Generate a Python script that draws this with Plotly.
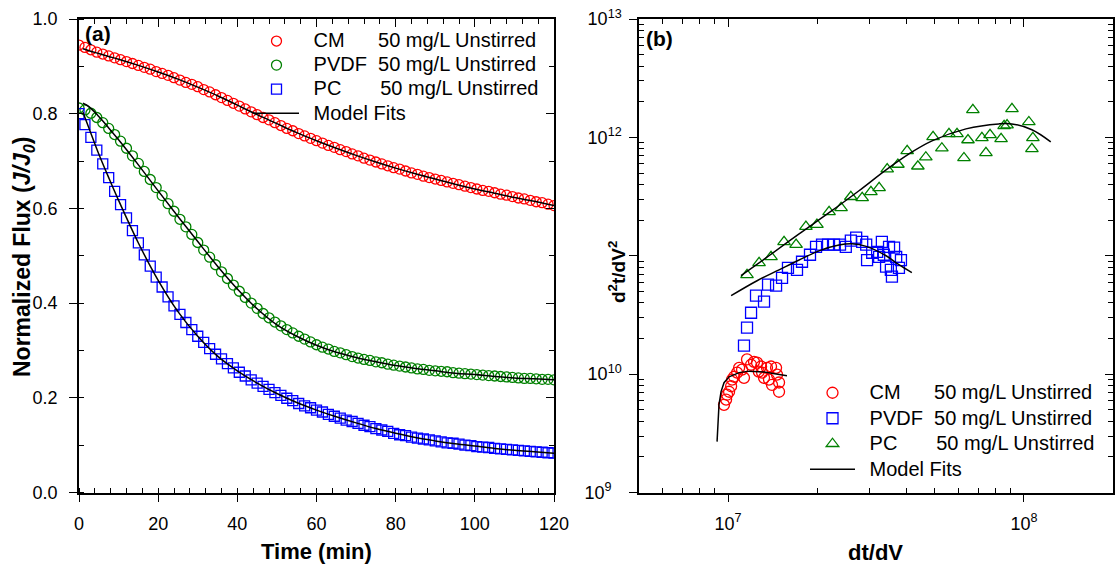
import plotly.graph_objects as go

W, H = 1116, 566
FONT = "Liberation Sans, Arial, sans-serif"
NB = "\u00a0"

RED = "#ff0000"
GREEN = "#008000"
BLUE = "#0000ff"

# ---------------- panel (a): normalized flux vs. time ----------------
time_min = [0, 1.5, 3, 4.5, 6, 7.5, 9, 10.5, 12, 13.5, 15, 16.5, 18, 19.5, 21, 22.5,
            24, 25.5, 27, 28.5, 30, 31.5, 33, 34.5, 36, 37.5, 39, 40.5, 42, 43.5, 45,
            46.5, 48, 49.5, 51, 52.5, 54, 55.5, 57, 58.5, 60, 61.5, 63, 64.5, 66, 67.5,
            69, 70.5, 72, 73.5, 75, 76.5, 78, 79.5, 81, 82.5, 84, 85.5, 87, 88.5, 90,
            91.5, 93, 94.5, 96, 97.5, 99, 100.5, 102, 103.5, 105, 106.5, 108, 109.5,
            111, 112.5, 114, 115.5, 117, 118.5, 120]

flux_cm = [0.945, 0.940, 0.935, 0.930, 0.926, 0.922, 0.918, 0.914, 0.910, 0.906, 0.902,
           0.898, 0.894, 0.889, 0.885, 0.881, 0.876, 0.871, 0.866, 0.862, 0.857, 0.851,
           0.846, 0.840, 0.834, 0.828, 0.822, 0.816, 0.810, 0.804, 0.798, 0.792, 0.787,
           0.781, 0.775, 0.769, 0.764, 0.758, 0.753, 0.748, 0.743, 0.738, 0.733, 0.729,
           0.724, 0.720, 0.715, 0.711, 0.706, 0.702, 0.698, 0.694, 0.690, 0.686, 0.683,
           0.679, 0.675, 0.672, 0.668, 0.665, 0.662, 0.659, 0.656, 0.653, 0.650, 0.647,
           0.644, 0.641, 0.638, 0.636, 0.633, 0.630, 0.628, 0.625, 0.622, 0.620, 0.617,
           0.614, 0.612, 0.609, 0.606]

flux_pvdf = [0.812, 0.808, 0.801, 0.792, 0.781, 0.769, 0.756, 0.742, 0.727, 0.711, 0.695,
             0.678, 0.661, 0.644, 0.627, 0.610, 0.594, 0.577, 0.561, 0.545, 0.528, 0.512,
             0.497, 0.481, 0.466, 0.452, 0.438, 0.425, 0.412, 0.400, 0.389, 0.378, 0.369,
             0.360, 0.352, 0.344, 0.337, 0.330, 0.324, 0.318, 0.312, 0.307, 0.303, 0.298,
             0.295, 0.291, 0.287, 0.284, 0.281, 0.279, 0.276, 0.274, 0.271, 0.269, 0.267,
             0.265, 0.263, 0.261, 0.260, 0.258, 0.257, 0.256, 0.255, 0.253, 0.252, 0.251,
             0.250, 0.249, 0.248, 0.247, 0.246, 0.245, 0.244, 0.243, 0.242, 0.241, 0.241,
             0.240, 0.239, 0.239, 0.238]

flux_pc = [0.800, 0.777, 0.750, 0.723, 0.694, 0.665, 0.636, 0.608, 0.580, 0.553, 0.527,
           0.502, 0.478, 0.455, 0.434, 0.413, 0.394, 0.376, 0.359, 0.344, 0.330, 0.317,
           0.304, 0.292, 0.282, 0.272, 0.263, 0.254, 0.246, 0.238, 0.231, 0.224, 0.218,
           0.211, 0.205, 0.199, 0.194, 0.188, 0.183, 0.179, 0.174, 0.170, 0.165, 0.161,
           0.157, 0.153, 0.150, 0.146, 0.142, 0.139, 0.135, 0.132, 0.129, 0.125, 0.122,
           0.120, 0.117, 0.115, 0.113, 0.111, 0.109, 0.107, 0.105, 0.104, 0.102, 0.100,
           0.099, 0.097, 0.096, 0.095, 0.093, 0.092, 0.091, 0.090, 0.089, 0.088, 0.087,
           0.086, 0.085, 0.084, 0.083]

fit_time = [1, 2.5, 5, 7.5, 10, 15, 20, 25, 30, 35, 40, 45, 50, 55, 60, 65, 70, 75, 80,
            85, 90, 95, 100, 105, 110, 115, 120]
fit_cm = [0.937, 0.933, 0.927, 0.921, 0.915, 0.902, 0.888, 0.873, 0.856, 0.838, 0.818,
          0.798, 0.779, 0.760, 0.743, 0.727, 0.712, 0.698, 0.685, 0.673, 0.662, 0.651,
          0.641, 0.632, 0.623, 0.615, 0.606]
fit_pvdf = [0.822, 0.815, 0.794, 0.770, 0.745, 0.692, 0.637, 0.583, 0.530, 0.478, 0.430,
            0.388, 0.354, 0.330, 0.311, 0.296, 0.285, 0.276, 0.268, 0.262, 0.257, 0.252,
            0.249, 0.245, 0.242, 0.240, 0.238]
fit_pc = [0.803, 0.770, 0.715, 0.665, 0.617, 0.527, 0.448, 0.382, 0.330, 0.288, 0.257,
          0.231, 0.209, 0.190, 0.174, 0.160, 0.147, 0.135, 0.125, 0.116, 0.109, 0.103,
          0.098, 0.093, 0.089, 0.086, 0.083]

# ---------------- panel (b): d2t/dV2 vs. dt/dV ----------------
cm_dtdv = [9.69e6, 9.85e6, 9.92e6, 1.008e7, 1.024e7, 1.032e7, 1.048e7, 1.073e7, 1.09e7,
           1.115e7, 1.132e7, 1.159e7, 1.196e7, 1.224e7, 1.253e7, 1.27e7, 1.293e7, 1.303e7,
           1.323e7, 1.354e7, 1.375e7, 1.397e7, 1.408e7, 1.453e7, 1.464e7, 1.487e7, 1.487e7]
cm_d2t = [5.5e9, 6.1e9, 6.7e9, 7.1e9, 7.9e9, 9.0e9, 9.5e9, 1.03e10, 1.13e10, 1.09e10,
          9.3e9, 1.33e10, 1.2e10, 1.27e10, 1.25e10, 1.05e10, 1.16e10, 1.03e10, 9.3e9,
          1.13e10, 9.0e9, 1.16e10, 8.1e9, 1.13e10, 9.9e9, 8.5e9, 7.1e9]

pvdf_dtdv = [1.132e7, 1.159e7, 1.196e7, 1.243e7, 1.323e7, 1.365e7, 1.453e7, 1.522e7,
             1.594e7, 1.71e7, 1.778e7, 1.892e7, 1.983e7, 2.078e7, 2.177e7, 2.28e7, 2.39e7,
             2.5e7, 2.6e7, 2.71e7, 2.84e7, 2.93e7, 2.95e7, 3.07e7, 3.19e7, 3.31e7, 3.36e7,
             3.5e7, 3.64e7, 3.7e7, 3.55e7, 3.78e7, 3.58e7, 3.42e7, 3.84e7, 3.24e7]
pvdf_d2t = [1.74e10, 2.47e10, 3.3e10, 4.6e10, 4.1e10, 5.7e10, 5.6e10, 6.5e10, 7.9e10,
            7.6e10, 8.9e10, 1.02e11, 1.19e11, 1.24e11, 1.24e11, 1.24e11, 1.24e11, 1.19e11,
            1.34e11, 1.42e11, 1.31e11, 1.24e11, 9.2e10, 1.06e11, 1.08e11, 1.31e11, 1.02e11,
            1.19e11, 1.17e11, 9.8e10, 7.6e10, 7.9e10, 6.65e10, 8.1e10, 9.2e10, 9.8e10]

pc_dtdv = [1.159e7, 1.273e7, 1.397e7, 1.546e7, 1.698e7, 1.833e7, 1.997e7, 2.195e7, 2.41e7,
           2.6e7, 2.84e7, 3.04e7, 3.24e7, 3.45e7, 3.75e7, 4.03e7, 4.38e7, 4.66e7, 4.93e7,
           5.28e7, 5.58e7, 5.94e7, 6.27e7, 6.47e7, 6.72e7, 7.21e7, 7.44e7, 7.68e7, 8.37e7,
           8.57e7, 8.77e7, 9.11e7, 1.039e8, 1.072e8, 1.064e8]
pc_d2t = [6.9e10, 8.7e10, 9.8e10, 1.31e11, 1.24e11, 1.76e11, 1.83e11, 2.35e11, 2.54e11,
          3.15e11, 3.08e11, 3.47e11, 3.75e11, 5.4e11, 5.9e11, 7.7e11, 5.7e11, 6.8e11,
          1.01e12, 8.1e11, 1.07e12, 1.07e12, 6.7e11, 9.5e11, 1.71e12, 9.9e11, 7.4e11,
          1.05e12, 9.7e11, 1.25e12, 1.27e12, 1.74e12, 1.35e12, 9.9e11, 8.0e11]

fit_cm_dtdv = [9.18e6, 9.25e6, 9.32e6, 9.47e6, 9.69e6, 1.008e7, 1.09e7, 1.178e7, 1.323e7,
               1.582e7]
fit_cm_d2t = [2.69e9, 4.13e9, 5.53e9, 7.12e9, 8.47e9, 9.5e9, 1.03e10, 1.06e10, 1.04e10,
              9.7e9]
fit_pvdf_dtdv = [1.024e7, 1.253e7, 1.487e7, 1.738e7, 2.03e7, 2.37e7, 2.62e7, 2.93e7,
                 3.42e7, 3.78e7, 4.18e7]
fit_pvdf_d2t = [4.6e10, 6.15e10, 7.6e10, 9.2e10, 1.10e11, 1.23e11, 1.26e11, 1.2e11,
                1.0e11, 8.4e10, 7.2e10]
fit_pc_dtdv = [1.106e7, 1.375e7, 1.738e7, 2.195e7, 2.77e7, 3.42e7, 4.09e7, 4.89e7, 6.37e7,
               8.22e7, 9.1e7, 1.064e8, 1.232e8]
fit_pc_d2t = [6.78e10, 1.0e11, 1.53e11, 2.31e11, 3.54e11, 5.32e11, 7.26e11, 9.34e11,
              1.18e12, 1.30e12, 1.30e12, 1.16e12, 9.17e11]

series_labels = ["CM" + NB * 6 + "50 mg/L Unstirred",
                 "PVDF" + NB * 2 + "50 mg/L Unstirred",
                 "PC" + NB * 7 + "50 mg/L Unstirred",
                 "Model Fits"]

x_ticks_b = [1e7, 1e8]
x_ticktext_b = ["10<sup>7</sup>", "10<sup>8</sup>"]
y_ticks_b = [1e9, 1e10, 1e11, 1e12, 1e13]
y_ticktext_b = ["10<sup>9</sup>" + NB * 2, "10<sup>10</sup>", "", "10<sup>12</sup>",
                "10<sup>13</sup>"]
x_minor_b = [6e6, 7e6, 8e6, 9e6, 2e7, 3e7, 4e7, 5e7, 6e7, 7e7, 8e7, 9e7]
y_minor_b = [m * 10 ** e for e in range(9, 13) for m in range(2, 10)]


def px_x(v):
    return v / W


def px_y(v):
    return 1 - v / H


def legend_text(s):
    # legend rows are spaced from the legend font size; the entry text is drawn larger
    return '<span style="font-size:20px">' + NB + "\u2009" + s + "</span>"


XA = [px_x(79), px_x(554)]
XB = [px_x(639), px_x(1113)]
YD = [px_y(492.5), px_y(19)]

fig = go.Figure()


def markers(x, y, name, symbol, color, size, xa, ya, legend):
    fig.add_trace(go.Scatter(
        x=x, y=y, mode="markers", name=legend_text(name), xaxis=xa, yaxis=ya,
        legend=legend,
        marker=dict(symbol=symbol, size=size, color=color, line=dict(color=color, width=1.3)),
    ))


def fit_line(x, y, show, xa, ya, legend, shape="linear"):
    fig.add_trace(go.Scatter(
        x=x, y=y, mode="lines", name=legend_text(series_labels[3]), showlegend=show,
        xaxis=xa, yaxis=ya, legend=legend,
        line=dict(color="black", width=1.5, shape=shape),
    ))


# panel (a)
markers(time_min, flux_cm, series_labels[0], "circle-open", RED, 10, "x", "y", "legend")
markers(time_min, flux_pvdf, series_labels[1], "circle-open", GREEN, 10, "x", "y", "legend")
markers(time_min, flux_pc, series_labels[2], "square-open", BLUE, 10, "x", "y", "legend")
fit_line(fit_time, fit_cm, True, "x", "y", "legend", "spline")
fit_line(fit_time, fit_pvdf, False, "x", "y", "legend", "spline")
fit_line(fit_time, fit_pc, False, "x", "y", "legend", "spline")

# panel (b)
markers(cm_dtdv, cm_d2t, series_labels[0], "circle-open", RED, 11, "x2", "y2", "legend2")
markers(pvdf_dtdv, pvdf_d2t, series_labels[1], "square-open", BLUE, 11, "x2", "y2", "legend2")
markers(pc_dtdv, pc_d2t, series_labels[2], "triangle-up-open", GREEN, 11, "x2", "y2",
        "legend2")
fit_line(fit_cm_dtdv, fit_cm_d2t, True, "x2", "y2", "legend2")
fit_line(fit_pvdf_dtdv, fit_pvdf_d2t, False, "x2", "y2", "legend2", "spline")
fit_line(fit_pc_dtdv, fit_pc_d2t, False, "x2", "y2", "legend2", "spline")

# empty traces so the mirrored frame axes get drawn
for xa, ya in [("x3", "y"), ("x", "y3"), ("x4", "y2"), ("x2", "y4")]:
    fig.add_trace(go.Scatter(x=[], y=[], xaxis=xa, yaxis=ya, showlegend=False,
                             hoverinfo="skip"))

tickfont = dict(family=FONT, size=18, color="black")
base = dict(showline=True, linecolor="black", linewidth=1.5, showgrid=False,
            zeroline=False, tickcolor="black", tickwidth=1.3, tickfont=tickfont,
            automargin=False)
minor_in = dict(ticks="inside", ticklen=5, tickwidth=1.2, tickcolor="black")

legend_common = dict(xanchor="left", yanchor="top", bgcolor="rgba(0,0,0,0)",
                     borderwidth=0, itemwidth=45, tracegroupgap=0)

fig.update_layout(
    width=W, height=H,
    margin=dict(l=0, r=0, t=0, b=0, pad=0, autoexpand=False),
    paper_bgcolor="white", plot_bgcolor="white",
    font=dict(family=FONT, color="black"),
    xaxis=dict(base, domain=XA, anchor="y", range=[0, 120], tickmode="linear", tick0=0,
               dtick=20, ticks="outside", ticklen=8, ticklabelstandoff=6,
               minor=dict(minor_in, dtick=4)),
    yaxis=dict(base, domain=YD, anchor="x", range=[0, 1], tickmode="linear", tick0=0,
               dtick=0.2, tickformat=".1f", ticks="outside", ticklen=8,
               ticklabelstandoff=8, minor=dict(minor_in, dtick=0.1)),
    xaxis3=dict(base, overlaying="x", anchor="y", side="top", range=[0, 120],
                tickmode="linear", tick0=0, dtick=20, ticks="inside", ticklen=8,
                showticklabels=False, minor=dict(minor_in, dtick=4)),
    yaxis3=dict(base, overlaying="y", anchor="x", side="right", range=[0, 1],
                tickmode="linear", tick0=0, dtick=0.2, ticks="inside", ticklen=8,
                showticklabels=False, minor=dict(minor_in, dtick=0.1)),
    xaxis2=dict(base, domain=XB, anchor="y2", type="log", range=[6.699, 8.301],
                tickmode="array", tickvals=x_ticks_b, ticktext=x_ticktext_b,
                ticks="outside", ticklen=8, ticklabelstandoff=6,
                minor=dict(minor_in, tickmode="array", tickvals=x_minor_b)),
    yaxis2=dict(base, domain=YD, anchor="x2", type="log", range=[9, 13],
                tickmode="array", tickvals=y_ticks_b, ticktext=y_ticktext_b,
                ticks="outside", ticklen=8, ticklabelstandoff=4,
                minor=dict(minor_in, tickmode="array", tickvals=y_minor_b)),
    xaxis4=dict(base, overlaying="x2", anchor="y2", side="top", type="log",
                range=[6.699, 8.301], tickmode="array", tickvals=x_ticks_b,
                ticks="inside", ticklen=8, showticklabels=False,
                minor=dict(minor_in, tickmode="array", tickvals=x_minor_b)),
    yaxis4=dict(base, overlaying="y2", anchor="x2", side="right", type="log",
                range=[9, 13], tickmode="array", tickvals=y_ticks_b, ticks="inside",
                ticklen=8, showticklabels=False,
                minor=dict(minor_in, tickmode="array", tickvals=y_minor_b)),
    legend=dict(legend_common, x=px_x(249), y=px_y(24),
                font=dict(family=FONT, size=16.2, color="black")),
    legend2=dict(legend_common, x=px_x(805), y=px_y(375),
                 font=dict(family=FONT, size=17.3, color="black")),
    showlegend=True,
)

title_font = dict(family=FONT, size=22, color="black")
annotations = [
    dict(text="<b>(a)</b>", x=px_x(83), y=px_y(34), xanchor="left", yanchor="middle",
         font=dict(family=FONT, size=21, color="black")),
    dict(text="<b>(b)</b>", x=px_x(644), y=px_y(38), xanchor="left", yanchor="middle",
         font=dict(family=FONT, size=21, color="black")),
    dict(text="<b>Time (min)</b>", x=px_x(316), y=px_y(551), xanchor="center",
         yanchor="middle", font=title_font),
    dict(text="<b>dt/dV</b>", x=px_x(875), y=px_y(552), xanchor="center",
         yanchor="middle", font=title_font),
    dict(text="<b>Normalized Flux (<i>J/J<sub>0</sub></i>)</b>", x=px_x(23), y=px_y(257),
         xanchor="center", yanchor="middle", textangle=-90,
         font=dict(family=FONT, size=23, color="black")),
    dict(text="<b>d<sup>2</sup>t/dV<sup>2</sup></b>", x=px_x(617), y=px_y(272),
         xanchor="center", yanchor="middle", textangle=-90,
         font=dict(family=FONT, size=19, color="black")),
]
for a in annotations:
    a.update(xref="paper", yref="paper", showarrow=False)
fig.update_layout(annotations=annotations)

fig.write_html("out.html")
